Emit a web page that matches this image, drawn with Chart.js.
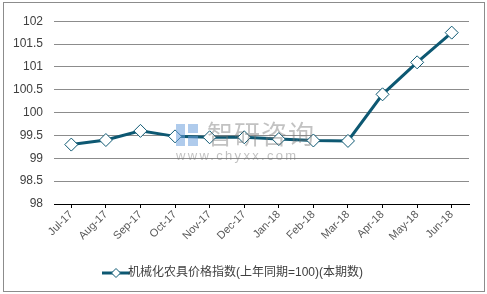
<!DOCTYPE html>
<html>
<head>
<meta charset="utf-8">
<script src="https://cdn.jsdelivr.net/npm/chart.js@4"></script>
<style>
  body { margin: 0; background: #fff; }
  #box { position: absolute; left: 3px; top: 2px; width: 480px; height: 288px; border: 1px solid #8c8c8c; }
  #wm { position: absolute; left: 176px; top: 118px; color: rgba(120,120,120,0.45); pointer-events: none; }
  #wm .cn { font: 26px "Noto Sans CJK SC"; line-height: 30px; margin-left: 31px; letter-spacing: 1px; }
  #wm .url { font: 13px "Liberation Sans"; letter-spacing: 2.3px; }
  #wm .logo { position: absolute; left: 0; top: 6px; width: 22px; height: 22px; }
  #wm .logo i { position: absolute; background: rgba(110,160,220,0.55); }
</style>
</head>
<body>
<div id="box"><canvas id="myChart" width="480" height="288"></canvas></div>
<div id="wm">
  <div class="logo"><i style="left:0;top:0;width:9px;height:22px"></i><i style="left:12px;top:0;width:10px;height:9px"></i><i style="left:12px;top:12px;width:10px;height:10px"></i></div>
  <div class="cn">智研咨询</div><div class="url">www.chyxx.com</div>
</div>
<script>
//==============DATA===============
const months = ['Jul-17','Aug-17','Sep-17','Oct-17','Nov-17','Dec-17','Jan-18','Feb-18','Mar-18','Apr-18','May-18','Jun-18'];
const indexValues = [99.3, 99.4, 99.6, 99.48, 99.46, 99.46, 99.42, 99.39, 99.38, 100.4, 101.1, 101.75];
const seriesName = '机械化农具价格指数(上年同期=100)(本期数)';
const yMin = 98, yMax = 102, yStep = 0.5;

const lineColor = '#0d5872';

// legend marker: line with a diamond in the middle
const marker = document.createElement('canvas');
marker.width = 28; marker.height = 12;
const mctx = marker.getContext('2d');
mctx.strokeStyle = lineColor; mctx.lineWidth = 3;
mctx.beginPath(); mctx.moveTo(0, 6); mctx.lineTo(28, 6); mctx.stroke();
mctx.fillStyle = '#fff'; mctx.lineWidth = 1;
mctx.beginPath(); mctx.moveTo(14, 1.5); mctx.lineTo(18.5, 6); mctx.lineTo(14, 10.5); mctx.lineTo(9.5, 6); mctx.closePath();
mctx.fill(); mctx.stroke();

//==============CHART===============
const myChart = document.getElementById('myChart');

let lineChart = new Chart(myChart, {
  type: 'line',
  data: {
    labels: months,
    datasets: [{
      label: seriesName,
      data: indexValues,
      borderColor: lineColor,
      borderWidth: 3,
      pointStyle: 'rectRot',
      pointRadius: 6.5,
      pointBorderWidth: 1,
      pointBackgroundColor: '#fff',
      pointBorderColor: lineColor,
      tension: 0
    }]
  },
  options: {
    responsive: false,
    animation: false,
    layout: { padding: { top: 4, right: 15, bottom: 2, left: 0 } },
    plugins: {
      tooltip: { enabled: false },
      legend: {
        position: 'bottom',
        labels: {
          usePointStyle: true,
          pointStyle: marker,
          color: '#404040',
          font: { family: 'Liberation Sans, Noto Sans CJK SC', size: 12 },
          padding: 8
        }
      }
    },
    scales: {
      x: {
        offset: true,
        grid: { drawOnChartArea: false, drawTicks: true, tickLength: 4, color: '#000' },
        border: { color: '#000' },
        ticks: {
          color: '#595959',
          font: { family: 'Liberation Sans', size: 11 },
          maxRotation: 45, minRotation: 45,
          padding: 0
        },
        afterFit: scale => { scale.height = 55; }
      },
      y: {
        min: yMin,
        max: yMax,
        grid: { color: '#8c8c8c', drawTicks: false },
        border: { display: false },
        ticks: {
          stepSize: yStep,
          color: '#404040',
          font: { family: 'Liberation Sans', size: 12 },
          padding: 11,
          callback: value => String(value)
        },
        afterFit: scale => { scale.width = 50; }
      }
    }
  }
});
</script>
</body>
</html>
